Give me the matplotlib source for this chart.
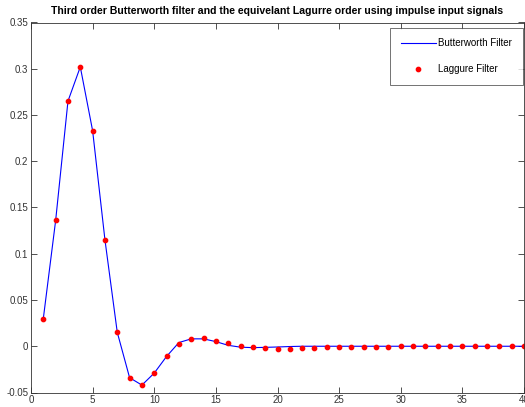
import numpy as np
import matplotlib.pyplot as plt

plt.rcParams['font.family'] = ['Liberation Sans', 'DejaVu Sans']

# impulse response samples
n = np.arange(1, 41)
butterworth = [0.030, 0.136, 0.265, 0.302, 0.233, 0.115, 0.015, -0.034, -0.042, -0.029,
               -0.011, 0.004, 0.008, 0.008, 0.005, 0.001, -0.001, -0.0015, -0.0012, -0.0008,
               -0.0003, 0.0, 0.0, 0.0, 0.0, 0.0, 0.0, 0.0, 0.0, 0.0,
               0.0, 0.0, 0.0, 0.0, 0.0, 0.0, 0.0, 0.0, 0.0, 0.0]
laguerre = [0.030, 0.136, 0.265, 0.302, 0.233, 0.115, 0.015, -0.034, -0.042, -0.029,
            -0.011, 0.002, 0.008, 0.009, 0.006, 0.003, 0.000, -0.001, -0.002, -0.003,
            -0.003, -0.002, -0.002, -0.001, -0.001, -0.0005, -0.0005, -0.0005, -0.0005, 0.0,
            0.0, 0.0, 0.0, 0.0, 0.0, 0.0, 0.0, 0.0, 0.0, 0.0]

fig = plt.figure(figsize=(5.25, 4.07), dpi=100)
ax = fig.add_axes([31/525, 1 - 392.5/407, 493/525, 370/407])

ax.plot(n, butterworth, color='#0000ff', lw=0.8, label='Butterworth Filter')
ax.plot(n, laguerre, ls='none', marker='o', ms=3.1, color='#ff0000', mec='#ff0000',
        label='Laggure Filter')

ax.set_xlim(0, 40)
ax.set_ylim(-0.05, 0.35)
ax.set_xticks(np.arange(0, 41, 5))
ax.set_yticks(np.arange(-0.05, 0.351, 0.05))
ax.set_yticklabels(['-0.05', '0', '0.05', '0.1', '0.15', '0.2', '0.25', '0.3', '0.35'])
ax.tick_params(direction='in', length=4, width=0.6, top=True, right=True,
               labelsize=7, labelcolor='#333333', pad=2, color='#333333')
for s in ax.spines.values():
    s.set_linewidth(0.6)
    s.set_color('#333333')

ax.set_title('Third order Butterworth filter and the equivelant Lagurre order using impulse input signals',
             fontsize=7.6, fontweight='bold', pad=6)

leg = ax.legend(loc='upper right', bbox_to_anchor=(0.998, 0.986), fontsize=7, frameon=True,
                fancybox=False, edgecolor='#333333', labelspacing=1.6, borderpad=1.1,
                handlelength=3.6, handletextpad=0.3, borderaxespad=0)
leg.get_frame().set_linewidth(0.6)
leg.legend_handles[0].set_color('#0000ff')

fig.savefig('out.png', dpi=100)
